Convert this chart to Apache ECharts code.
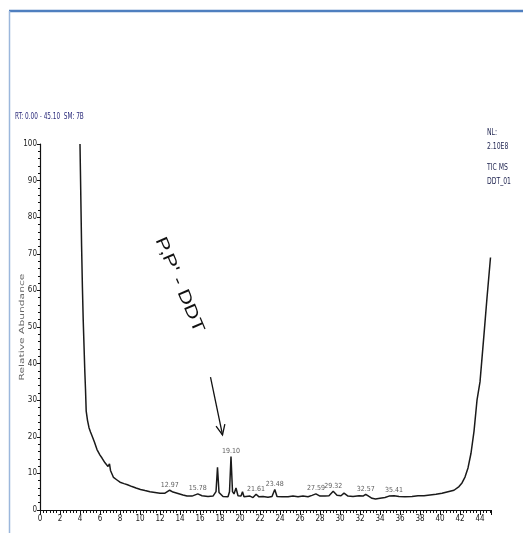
<!DOCTYPE html>
<html>
<head>
<meta charset="utf-8">
<script src="https://cdn.jsdelivr.net/npm/echarts@6/dist/echarts.min.js"></script>
<style>
html,body{margin:0;padding:0;background:#fff;}
#c{width:523px;height:533px;}
</style>
</head>
<body>
<div id="c"></div>
<script>
// Retention time (min) of the TIC trace
const rt = [4.00,4.04,4.09,4.16,4.24,4.32,4.40,4.48,4.55,4.62,4.75,4.90,5.05,5.20,5.35,5.45,5.70,6.00,6.20,6.50,6.80,6.95,7.05,7.35,7.70,8.00,8.40,8.75,9.20,9.60,10.05,10.5,11.0,11.5,12.0,12.5,12.97,13.3,13.8,14.3,14.7,15.2,15.78,16.2,16.8,17.3,17.6,17.75,17.9,18.3,18.8,18.95,19.10,19.25,19.4,19.6,19.8,20.1,20.25,20.4,21.0,21.3,21.61,21.9,22.3,22.8,23.2,23.48,23.7,24.2,24.8,25.3,25.8,26.3,26.8,27.2,27.59,28.0,28.5,28.9,29.32,29.7,30.1,30.4,30.8,31.3,31.9,32.3,32.57,32.9,33.2,33.55,34.0,34.5,34.9,35.41,35.9,36.5,37.2,37.8,38.4,39.0,39.6,40.2,40.8,41.4,41.9,42.2,42.5,42.8,43.1,43.4,43.7,44.0,44.4,44.7,45.05];
// Relative abundance (%)
const abundance = [100,93,84,72,61,52,45,38,33,27,24.5,22.5,21.3,20.3,19.8,18.5,16.5,15.0,14.2,12.9,11.9,12.6,10.8,8.9,8.2,7.6,7.2,6.9,6.4,6.0,5.6,5.3,5.0,4.8,4.6,4.6,5.4,4.9,4.5,4.1,3.8,3.8,4.4,3.9,3.7,3.8,5.0,11.7,4.8,3.7,3.6,5.0,14.6,5.0,4.4,6.0,3.9,3.8,5.0,3.6,3.8,3.4,4.3,3.6,3.7,3.5,3.7,5.6,3.7,3.6,3.6,3.8,3.6,3.8,3.6,4.0,4.4,3.8,3.8,3.9,5.1,4.0,3.9,4.6,3.8,3.7,3.9,3.8,4.3,3.7,3.2,3.0,3.2,3.4,3.8,3.9,3.7,3.6,3.7,3.9,3.9,4.1,4.3,4.6,5.0,5.4,6.4,7.4,9.0,11.5,15.5,21.5,30,35,48,58,69];
// Labelled peaks
const peakRt = [12.97,15.78,19.10,21.61,23.48,27.59,29.32,32.57,35.41];
const peakAbundance = [5.4,4.4,14.6,4.3,5.6,4.4,5.1,4.3,3.9];
// Axis ranges / ticks
const xMin = 0, xMax = 45.1, xStep = 2;
const yMin = 0, yMax = 100, yStep = 10;
// Texts
const headerText = 'RT: 0.00 - 45.10  SM: 7B';
const sideText = ['NL:', '2.10E8', 'TIC MS', 'DDT_01'];
const yTitle = 'Relative Abundance';
const annotationText = "P,P' - DDT";
const annotationTextAt = [13.95, 61.5];
const arrowFrom = [17.05, 36.3];
const arrowTo = [18.25, 20.5];

const NARROW = '"Liberation Sans Narrow","DejaVu Sans Condensed",Arial,sans-serif';
const chart = echarts.init(document.getElementById('c'), null, {renderer: 'canvas'});

chart.setOption({
  animation: false,
  backgroundColor: '#fff',
  grid: {left: 40, top: 144, width: 451, bottom: 23, containLabel: false},
  xAxis: {
    type: 'value', min: xMin, max: xMax, interval: xStep,
    axisLine: {lineStyle: {color: '#111', width: 1.2}},
    axisTick: {show: true, length: 5, lineStyle: {color: '#111'}},
    minorTick: {show: true, splitNumber: 6, length: 3, lineStyle: {color: '#111'}},
    splitLine: {show: false},
    axisLabel: {fontSize: 8, fontFamily: NARROW, color: '#222', margin: 5, showMaxLabel: false}
  },
  yAxis: {
    type: 'value', min: yMin, max: yMax, interval: yStep,
    axisLine: {show: true, lineStyle: {color: '#111', width: 1.2}},
    axisTick: {show: true, length: 3, lineStyle: {color: '#111'}},
    minorTick: {show: true, splitNumber: 5, length: 2, lineStyle: {color: '#111'}},
    splitLine: {show: false},
    axisLabel: {fontSize: 8, fontFamily: NARROW, color: '#222', margin: 3}
  },
  series: [
    {
      type: 'line', name: 'TIC',
      data: rt.map((x, i) => [x, abundance[i]]),
      showSymbol: false, symbol: 'none', clip: true,
      lineStyle: {color: '#1a1a1a', width: 1.5},
      silent: true
    },
    {
      type: 'scatter', name: 'peaks',
      data: peakRt.map((x, i) => [x, peakAbundance[i]]),
      symbolSize: 0.01,
      label: {
        show: true, position: 'top', distance: 2,
        formatter: p => p.value[0].toFixed(2),
        fontSize: 7, fontFamily: NARROW, color: '#333'
      },
      silent: true
    }
  ]
});

function px(p) { return chart.convertToPixel({gridIndex: 0}, p); }
const tp = px(annotationTextAt);
const a0 = px(arrowFrom);
const a1 = px(arrowTo);
const ang = Math.atan2(a1[1] - a0[1], a1[0] - a0[0]);
const head = 11, spread = 0.42;
const h1 = [a1[0] - head * Math.cos(ang - spread), a1[1] - head * Math.sin(ang - spread)];
const h2 = [a1[0] - head * Math.cos(ang + spread), a1[1] - head * Math.sin(ang + spread)];

chart.setOption({
  graphic: [
    // frame
    {type: 'line', shape: {x1: 9, y1: 11, x2: 523, y2: 11}, style: {stroke: '#4f7fbf', lineWidth: 2.5}, silent: true},
    {type: 'line', shape: {x1: 9.5, y1: 11, x2: 9.5, y2: 533}, style: {stroke: '#9bb7dc', lineWidth: 1.5}, silent: true},
    // header
    {type: 'text', x: 15, y: 113, scaleX: 0.8, style: {text: headerText, font: '8px ' + NARROW, fill: '#2a2a7a'}, silent: true},
    // side info
    {type: 'text', x: 487, y: 129, scaleX: 0.85, style: {text: sideText[0], font: '8px ' + NARROW, fill: '#1f2450'}, silent: true},
    {type: 'text', x: 487, y: 143, scaleX: 0.85, style: {text: sideText[1], font: '8px ' + NARROW, fill: '#1f2450'}, silent: true},
    {type: 'text', x: 487, y: 164, scaleX: 0.85, style: {text: sideText[2], font: '8px ' + NARROW, fill: '#1f2450'}, silent: true},
    {type: 'text', x: 487, y: 178, scaleX: 0.85, style: {text: sideText[3], font: '8px ' + NARROW, fill: '#1f2450'}, silent: true},
    // y title
    {type: 'text', x: 22, y: 327, rotation: Math.PI / 2, scaleX: 1.7,
      style: {text: yTitle, font: '7px ' + NARROW, fill: '#666', align: 'center', verticalAlign: 'middle'}, silent: true},
    // annotation
    {type: 'text', x: tp[0], y: tp[1], rotation: -1.17, scaleX: 1.3,
      style: {text: annotationText, font: '17px "Liberation Sans", Arial, sans-serif', fill: '#111', align: 'center', verticalAlign: 'middle'}, silent: true},
    {type: 'line', shape: {x1: a0[0], y1: a0[1], x2: a1[0], y2: a1[1]}, style: {stroke: '#111', lineWidth: 1.3}, silent: true},
    {type: 'polyline', shape: {points: [h1, a1, h2]}, style: {stroke: '#111', lineWidth: 1.3, fill: null}, silent: true}
  ]
});
</script>
</body>
</html>
